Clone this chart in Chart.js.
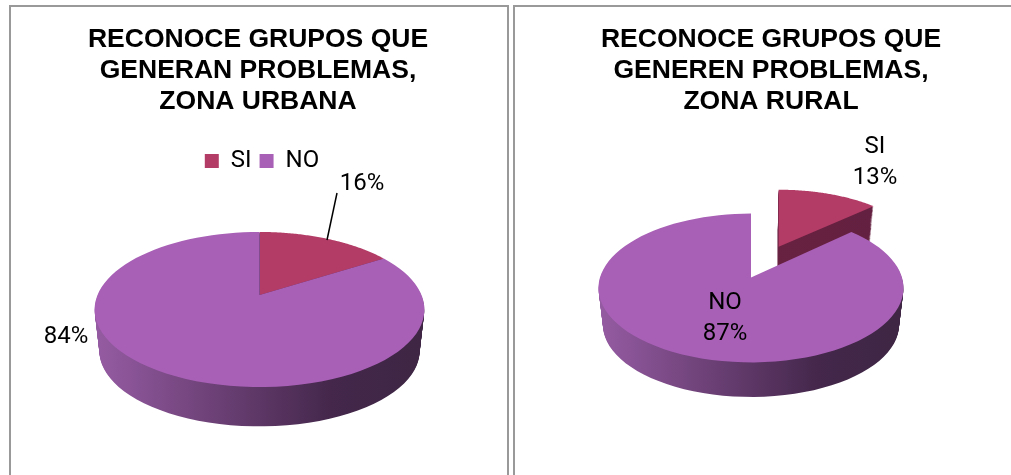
<!DOCTYPE html>
<html>
<head>
<meta charset="utf-8">
<script src="https://cdn.jsdelivr.net/npm/chart.js@4"></script>
<style>
html, body { margin: 0; padding: 0; background: #fff; overflow: hidden; }
.panel { position: absolute; top: 5px; height: 500px; box-sizing: border-box; border: 2px solid #999; }
canvas { position: absolute; top: 0; }
</style>
</head>
<body>
<div class="panel" style="left:9px;width:500px"></div>
<div class="panel" style="left:513px;width:520px"></div>
<canvas id="urbana" width="496" height="475" style="left:10px"></canvas>
<canvas id="rural" width="480" height="475" style="left:531px"></canvas>
<script>
const categories = ["SI", "NO"]
const urbanaValues = [16, 84]
const ruralValues = [13, 87]
const urbanaTitle = ["RECONOCE GRUPOS QUE", "GENERAN PROBLEMAS,", "ZONA URBANA"]
const ruralTitle = ["RECONOCE GRUPOS QUE", "GENEREN PROBLEMAS,", "ZONA RURAL"]
const topColors = ["#b33c66", "#a860b6"]
const wallColors = [["#6e2342", "#632040"], ["#955ba2", "#44274b", "#3e2644"]]
const labelFont = "Roboto"

// rim point of a slice after the tilt of the pie, ox/oy is the explode shift
function project(p, ox, oy, X, Y, t) {
    let s = 1 + (p.shrink - 1) * t
    let wa = (1 - p.k * oy) * s
    let w = (1 - p.k * (oy + Y)) * s
    return {
        x: p.cx + p.R * (ox / wa + X / w),
        y: p.cy + p.R * p.squash * (oy + Y) / w + p.depth * t
    }
}

function slicePath(ctx, arc, p, t) {
    let mid = (arc.startAngle + arc.endAngle) / 2
    let off = (arc.options.offset || 0) / p.R
    let ox = Math.cos(mid) * off
    let oy = Math.sin(mid) * off
    ctx.beginPath()
    let a = project(p, ox, oy, 0, 0, t)
    ctx.moveTo(a.x, a.y)
    for (let i = 0; i <= 90; i = i + 1) {
        let ang = arc.startAngle + (arc.endAngle - arc.startAngle) * i / 90
        let q = project(p, ox, oy, Math.cos(ang), Math.sin(ang), t)
        ctx.lineTo(q.x, q.y)
    }
    ctx.closePath()
}

const pie3d = {
    id: "pie3d",
    afterLayout(chart, args, opts) {
        // the legend sits a little right of the title
        chart.legend.left += opts.legendShift || 0
        chart.legend.right += opts.legendShift || 0
    },
    beforeDatasetsDraw(chart, args, opts) {
        let ctx = chart.ctx
        let arcs = chart.getDatasetMeta(0).data
        let p = {
            cx: arcs[0].x + opts.dx, cy: arcs[0].y + opts.dy, R: arcs[0].outerRadius,
            squash: opts.squash, k: opts.k, depth: opts.depth, shrink: opts.shrink
        }
        // back slice first, so the front one covers its wall
        let order = [0, 1]
        order.forEach(i => {
            let g = ctx.createLinearGradient(p.cx - p.R, 0, p.cx + p.R, 0)
            let stops = wallColors[i]
            if (stops.length == 2) {
                g.addColorStop(0, stops[0])
                g.addColorStop(1, stops[1])
            } else {
                g.addColorStop(0, stops[0])
                g.addColorStop(0.72, stops[1])
                g.addColorStop(1, stops[2])
            }
            ctx.fillStyle = g
            for (let d = p.depth; d >= 1; d = d - 1) {
                slicePath(ctx, arcs[i], p, d / p.depth)
                ctx.fill()
            }
            slicePath(ctx, arcs[i], p, 0)
            ctx.fillStyle = topColors[i]
            ctx.fill()
        })
        return false
    },
    afterDraw(chart, args, opts) {
        let ctx = chart.ctx
        let values = chart.data.datasets[0].data
        ctx.fillStyle = "#000"
        ctx.textAlign = "center"
        ctx.textBaseline = "middle"
        ctx.font = "24px " + labelFont
        opts.labels.forEach(l => {
            let text = values[l.i] + "%"
            if (l.name) {
                ctx.fillText(categories[l.i], l.x, l.y - 31)
            }
            ctx.fillText(text, l.x, l.y)
        })
        if (opts.leader) {
            ctx.strokeStyle = "#000"
            ctx.lineWidth = 1.5
            ctx.beginPath()
            ctx.moveTo(opts.leader[0], opts.leader[1])
            ctx.lineTo(opts.leader[2], opts.leader[3])
            ctx.stroke()
        }
    }
}

function makePie(id, values, title, showLegend, radius, offsets, look) {
    return new Chart(document.getElementById(id), {
        type: "pie",
        data: {
            labels: categories,
            datasets: [{
                data: values,
                backgroundColor: topColors,
                borderWidth: 0,
                offset: offsets,
                radius: radius
            }]
        },
        options: {
            responsive: false,
            animation: false,
            plugins: {
                title: {
                    display: true,
                    text: title,
                    color: "#000",
                    font: { family: "'Liberation Sans'", size: 26.5, weight: "bold", lineHeight: 1.17 },
                    padding: { top: 24, bottom: 24 }
                },
                legend: {
                    display: showLegend,
                    position: "top",
                    labels: {
                        color: "#000",
                        boxWidth: 14,
                        boxHeight: 14,
                        padding: 8,
                        font: { family: labelFont, size: 24 }
                    }
                },
                tooltip: { enabled: false },
                pie3d: look
            }
        },
        plugins: [pie3d]
    })
}

makePie("urbana", urbanaValues, urbanaTitle, true, 162, [0, 0], {
    dx: 1.5, dy: -34, squash: 0.462, k: 0.187, depth: 42, shrink: 1.03, legendShift: 4,
    labels: [{ i: 0, x: 352, y: 184 }, { i: 1, x: 56, y: 337 }],
    leader: [327, 193, 317, 240]
})
makePie("rural", ruralValues, ruralTitle, false, 151, [74, 0], {
    dx: -20, dy: -30.5, squash: 0.483, k: 0.141, depth: 37, shrink: 1.03,
    labels: [{ i: 0, x: 344, y: 178, name: true }, { i: 1, x: 194, y: 334, name: true }]
})
</script>
</body>
</html>
